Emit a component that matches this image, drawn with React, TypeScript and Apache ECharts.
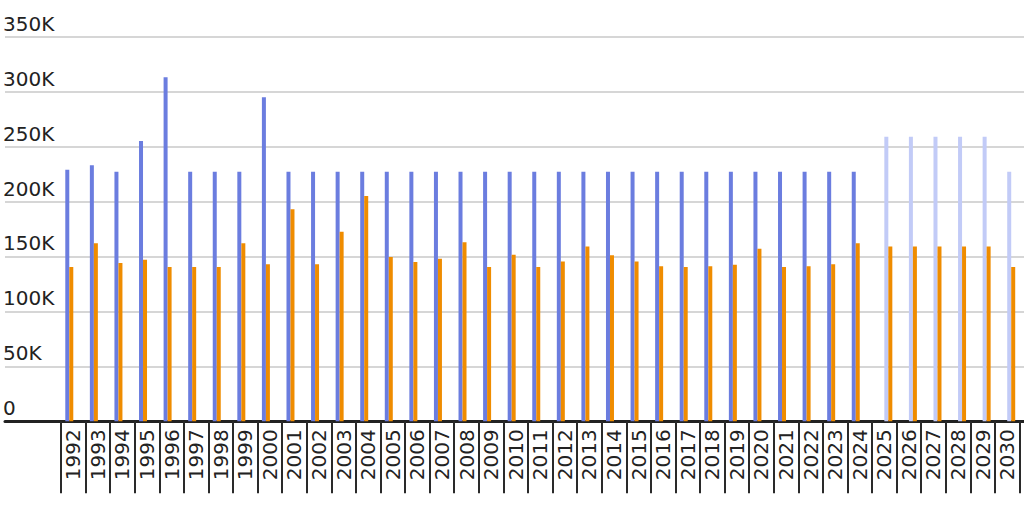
import React, { useEffect, useRef } from "react";
import * as echarts from "echarts";

const years = [
  "1992", "1993", "1994", "1995", "1996", "1997", "1998", "1999", "2000", "2001",
  "2002", "2003", "2004", "2005", "2006", "2007", "2008", "2009", "2010", "2011",
  "2012", "2013", "2014", "2015", "2016", "2017", "2018", "2019", "2020", "2021",
  "2022", "2023", "2024", "2025", "2026", "2027", "2028", "2029", "2030",
];

const actualYears = [
  "1992", "1993", "1994", "1995", "1996", "1997", "1998", "1999", "2000", "2001",
  "2002", "2003", "2004", "2005", "2006", "2007", "2008", "2009", "2010", "2011",
  "2012", "2013", "2014", "2015", "2016", "2017", "2018", "2019", "2020", "2021",
  "2022", "2023", "2024",
];
const actualBlue = [
  229000, 233000, 227000, 255000, 313000, 227000, 227000, 227000, 295000, 227000,
  227000, 227000, 227000, 227000, 227000, 227000, 227000, 227000, 227000, 227000,
  227000, 227000, 227000, 227000, 227000, 227000, 227000, 227000, 227000, 227000,
  227000, 227000, 227000,
];
const actualOrange = [
  140500, 162000, 144000, 147000, 140500, 140500, 140500, 162000, 143000, 193000,
  143000, 172500, 205000, 149500, 145000, 148000, 163000, 140500, 151500, 140500,
  145500, 159000, 151000, 145500, 141000, 140500, 141000, 142500, 157000, 140500,
  141000, 143000, 162000,
];

const forecastYears = ["2025", "2026", "2027", "2028", "2029", "2030"];
const forecastBlue = [259000, 259000, 259000, 259000, 259000, 227000];
const forecastOrange = [159000, 159000, 159000, 159000, 159000, 140500];

const yTicks = ["0", "50K", "100K", "150K", "200K", "250K", "300K", "350K"];

const pair = (cats: string[], vals: number[]) => cats.map((c, i) => [c, vals[i]]);

export default function App() {
  const ref = useRef<HTMLDivElement>(null);
  useEffect(() => {
    if (!ref.current) return;
    const chart = echarts.init(ref.current, null, { renderer: "svg" });
    const font = "DejaVu Sans";
    const common = {
      type: "bar",
      xAxisIndex: 1,
      yAxisIndex: 1,
      barWidth: 4,
      barGap: "0%",
      silent: true,
    };
    chart.setOption({
      animation: false,
      backgroundColor: "#ffffff",
      grid: [
        { left: 0, right: 0, top: 36.7, bottom: 90.7 },
        { left: 61, right: 4.5, top: 36.7, bottom: 90.7 },
      ],
      xAxis: [
        {
          gridIndex: 0,
          type: "value",
          min: 0,
          max: 1,
          axisLine: { show: true, onZero: false, lineStyle: { color: "#222222", width: 3 } },
          axisTick: { show: false },
          axisLabel: { show: false },
          splitLine: { show: false },
        },
        {
          gridIndex: 1,
          type: "category",
          data: years,
          boundaryGap: true,
          axisLine: { show: false },
          axisTick: {
            show: true,
            interval: 0,
            length: 72,
            lineStyle: { color: "#2a2a2a", width: 2 },
          },
          axisLabel: {
            interval: 0,
            rotate: 90,
            margin: 8,
            padding: [0, 0, 8, 0],
            fontFamily: font,
            fontSize: 20,
            color: "#222222",
          },
        },
      ],
      yAxis: [
        {
          gridIndex: 0,
          type: "value",
          min: 0,
          max: 350000,
          interval: 50000,
          axisLine: { show: false },
          axisTick: { show: false },
          splitLine: { show: true, lineStyle: { color: "#d6d6d6", width: 2 } },
          axisLabel: {
            inside: true,
            margin: -2,
            align: "left",
            verticalAlign: "bottom",
            padding: [0, 0, 3, 0],
            fontFamily: font,
            fontSize: 20,
            color: "#222222",
            formatter: (v: number) => yTicks[Math.round(v / 50000)],
          },
        },
        {
          gridIndex: 1,
          type: "value",
          min: 0,
          max: 350000,
          show: false,
          splitLine: { show: false },
        },
      ],
      series: [
        { ...common, name: "Actual total", data: pair(actualYears, actualBlue), itemStyle: { color: "#6b7ddf" } },
        { ...common, name: "Actual", data: pair(actualYears, actualOrange), itemStyle: { color: "#ef8c00" } },
        { ...common, name: "Forecast total", data: pair(forecastYears, forecastBlue), itemStyle: { color: "#c2cbf7" } },
        { ...common, name: "Forecast", data: pair(forecastYears, forecastOrange), itemStyle: { color: "#ef8c00" } },
      ],
    });
    return () => chart.dispose();
  }, []);
  return (
    <div
      ref={ref}
      style={{ position: "fixed", left: 0, top: 0, width: 1024, height: 512 }}
    />
  );
}
